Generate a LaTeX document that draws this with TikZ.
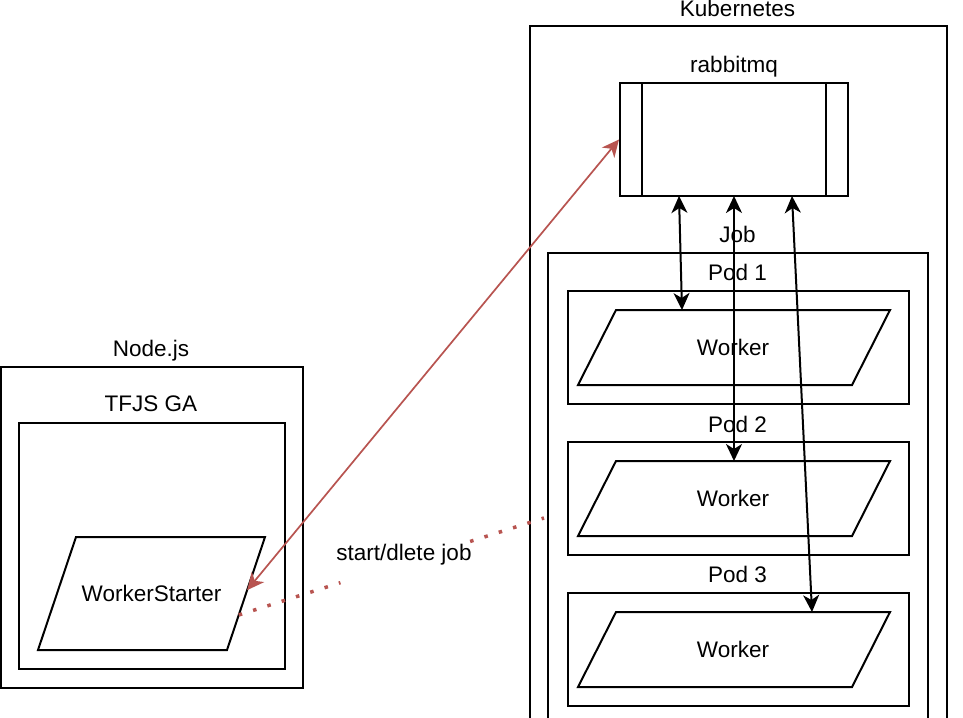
\documentclass[tikz,border=0pt]{standalone}
\usepackage{fontspec}
\setmainfont{Liberation Sans}
\usetikzlibrary{arrows.meta,calc}
\definecolor{redline}{HTML}{B85450}
\begin{document}
\begin{tikzpicture}[x=1pt,y=-1pt,
  box/.style={draw=black, line width=2pt, rectangle, inner sep=0pt},
  para/.style={draw=black, line width=2pt, line join=miter},
  txt/.style={font=\fontsize{22.5}{27}\selectfont, inner sep=0pt},
  lbl/.style={font=\fontsize{22.5}{27}\selectfont, anchor=base, inner sep=0pt},
  conn/.style={line width=2pt, {Stealth[length=17pt,width=16pt,inset=5pt]}-{Stealth[length=17pt,width=16pt,inset=5pt]}},
  redconn/.style={draw=redline, line width=1.7pt, {Stealth[length=17pt,width=16pt,inset=5pt]}-{Stealth[length=17pt,width=16pt,inset=5pt]}},
  dotline/.style={draw=redline, line width=3.5pt, dash pattern=on 3.5pt off 11.5pt}
]
\useasboundingbox (0,0) rectangle (963,717);
\clip (0,0) rectangle (963,717);
\fill[white] (0,0) rectangle (963,717);

% Kubernetes side
\node[box, minimum width=417pt, minimum height=714pt] (k8s) at (738.5,383) {};
\node[lbl] (k8slbl) at (737.5,17) {Kubernetes};
\node[box, minimum width=228pt, minimum height=113pt] (rmq) at (734,139.5) {};
\draw[line width=2pt] ($(rmq.north west)+(23,0)$) -- ($(rmq.south west)+(23,0)$);
\draw[line width=2pt] ($(rmq.north east)+(-23,0)$) -- ($(rmq.south east)+(-23,0)$);
\node[lbl] (rmqlbl) at (734,72) {rabbitmq};

\node[box, minimum width=380pt, minimum height=487pt] (job) at (738,496.5) {};
\node[lbl] (joblbl) at (737.5,242) {Job};

\node[box, minimum width=341pt, minimum height=113pt] (pod1) at (738.5,347.5) {};
\node[box, minimum width=341pt, minimum height=113pt] (pod2) at (738.5,498.5) {};
\node[box, minimum width=341pt, minimum height=113pt] (pod3) at (738.5,649.5) {};
\node[lbl] (pod1lbl) at (737.5,280) {Pod 1};
\node[lbl] (pod2lbl) at (737.5,432) {Pod 2};
\node[lbl] (pod3lbl) at (737.5,582) {Pod 3};

% Workers (parallelograms)
\foreach \i/\yc in {1/347.5, 2/498.5, 3/649.5}{
  \draw[para] (616,\yc-37.5) -- (890,\yc-37.5) -- (852,\yc+37.5) -- (578,\yc+37.5) -- cycle;
  \node[txt] (w\i) at (733,\yc) {Worker};
}

% Node.js side
\node[box, minimum width=302pt, minimum height=321pt] (nodejs) at (152,527.5) {};
\node[lbl] (nodejslbl) at (151,356) {Node.js};
\node[box, minimum width=266pt, minimum height=246pt] (tfjs) at (152,546) {};
\node[lbl] (tfjslbl) at (151,411.5) {TFJS GA};
\coordinate (wstl) at (76,537);
\coordinate (wstr) at (265,537);
\coordinate (wsbr) at (227,650);
\coordinate (wsbl) at (38,650);
\draw[para] (wstl) -- (wstr) -- (wsbr) -- (wsbl) -- cycle;
\node[txt] (ws) at (151.5,593.5) {WorkerStarter};
\coordinate (wsE) at ($(wstr)!0.47!(wsbr)$);

% connectors
\coordinate (a1s) at (679,196);
\coordinate (a1e) at (682,310);
\coordinate (a2s) at (734,196);
\coordinate (a2e) at (734,461);
\coordinate (a3s) at (792,196);
\coordinate (a3e) at (812,612);
\draw[conn] (a1s) -- (a1e);
\draw[conn] (a2s) -- (a2e);
\draw[conn] (a3s) -- (a3e);

\draw[redconn] (rmq.west) -- (wsE);

\coordinate (dstart) at ($(wstr)!0.69!(wsbr)$);
\coordinate (dend) at (544,518);
\draw[dotline] (dstart) -- ($(dstart)!0.333!(dend)$);
\draw[dotline] ($(dstart)!0.758!(dend)$) -- (dend);
\node[lbl] (joblabel) at (404,560) {start/dlete job};
\end{tikzpicture}
\end{document}
